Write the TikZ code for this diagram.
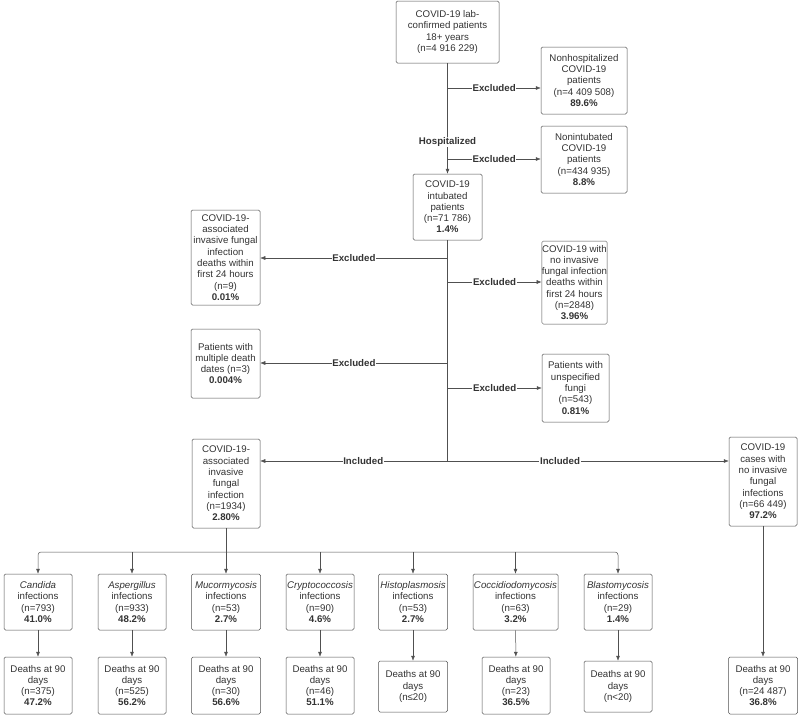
\documentclass[tikz,border=0pt]{standalone}
\usepackage{fontspec}
\setmainfont{Liberation Sans}
\usetikzlibrary{arrows.meta}

\definecolor{linegray}{HTML}{505050}
\definecolor{textgray}{HTML}{333333}

\tikzset{
  box/.style={draw=linegray, rounded corners=1.5pt, align=center, inner sep=0pt,
    text=textgray, font=\fontsize{9.7}{11.3}\selectfont},
  flow/.style={draw=linegray, -{Latex[length=5pt,width=4pt]}},
  tag/.style={font=\fontsize{9.7}{11.3}\selectfont\bfseries, text=textgray,
    fill=white, inner sep=0.8pt},
}

\begin{document}
\begin{tikzpicture}[x=1pt, y=-1pt, line width=0.5pt]
  \useasboundingbox (0,0) rectangle (800,718);

  % screening column
  \node[box, minimum width=103, minimum height=62] (lab) at (447.5,32)
    {COVID-19 lab-\\confirmed patients\\18+ years\\(n=4 916 229)};
  \node[box, minimum width=86, minimum height=67] (nonhosp) at (584,80.5)
    {Nonhospitalized\\COVID-19\\patients\\(n=4 409 508)\\\textbf{89.6\%}};
  \node[box, minimum width=86, minimum height=67] (nonint) at (584,159.5)
    {Nonintubated\\COVID-19\\patients\\(n=434 935)\\\textbf{8.8\%}};
  \node[box, minimum width=69, minimum height=66] (intub) at (447.5,207)
    {COVID-19\\intubated\\patients\\(n=71 786)\\\textbf{1.4\%}};

  % exclusions after intubation
  \node[box, minimum width=69, minimum height=95] (dead24) at (225.5,257.5)
    {COVID-19-\\associated\\invasive fungal\\infection\\deaths within\\first 24 hours\\(n=9)\\\textbf{0.01\%}};
  \node[box, minimum width=65, minimum height=83] (noifi24) at (574.5,282.5)
    {COVID-19 with\\no invasive\\fungal infection\\deaths within\\first 24 hours\\(n=2848)\\\textbf{3.96\%}};
  \node[box, minimum width=69, minimum height=69] (multdeath) at (225.5,363.5)
    {Patients with\\multiple death\\dates (n=3)\\\textbf{0.004\%}};
  \node[box, minimum width=67, minimum height=68] (unspec) at (575.5,388)
    {Patients with\\unspecified\\fungi\\(n=543)\\\textbf{0.81\%}};

  % included groups
  \node[box, minimum width=68, minimum height=89] (ifi) at (226,483.5)
    {COVID-19-\\associated\\invasive\\fungal\\infection\\(n=1934)\\\textbf{2.80\%}};
  \node[box, minimum width=68, minimum height=89] (noifi) at (763,481.5)
    {COVID-19\\cases with\\no invasive\\fungal\\infections\\(n=66 449)\\\textbf{97.2\%}};

  % infection types
  \node[box, minimum width=68, minimum height=56] (candida) at (38,602)
    {\textit{Candida}\\infections\\(n=793)\\\textbf{41.0\%}};
  \node[box, minimum width=68, minimum height=56] (asper) at (132,602)
    {\textit{Aspergillus}\\infections\\(n=933)\\\textbf{48.2\%}};
  \node[box, minimum width=69, minimum height=56] (mucor) at (226,602)
    {\textit{Mucormycosis}\\infections\\(n=53)\\\textbf{2.7\%}};
  \node[box, minimum width=68, minimum height=56] (crypto) at (320,602)
    {\textit{Cryptococcosis}\\infections\\(n=90)\\\textbf{4.6\%}};
  \node[box, minimum width=69, minimum height=56] (histo) at (413,602)
    {\textit{Histoplasmosis}\\infections\\(n=53)\\\textbf{2.7\%}};
  \node[box, minimum width=85, minimum height=56] (cocci) at (515.5,602)
    {\textit{Coccidiodomycosis}\\infections\\(n=63)\\\textbf{3.2\%}};
  \node[box, minimum width=68, minimum height=56] (blasto) at (618,602)
    {\textit{Blastomycosis}\\infections\\(n=29)\\\textbf{1.4\%}};

  % deaths at 90 days
  \node[box, minimum width=68, minimum height=57] (dcandida) at (38,685.5)
    {Deaths at 90\\days\\(n=375)\\\textbf{47.2\%}};
  \node[box, minimum width=68, minimum height=57] (dasper) at (132,685.5)
    {Deaths at 90\\days\\(n=525)\\\textbf{56.2\%}};
  \node[box, minimum width=69, minimum height=57] (dmucor) at (226,685.5)
    {Deaths at 90\\days\\(n=30)\\\textbf{56.6\%}};
  \node[box, minimum width=68, minimum height=57] (dcrypto) at (320,685.5)
    {Deaths at 90\\days\\(n=46)\\\textbf{51.1\%}};
  \node[box, minimum width=69, minimum height=51] (dhisto) at (413,686.5)
    {Deaths at 90\\days\\(n≤20)};
  \node[box, minimum width=68, minimum height=57] (dcocci) at (516,685.5)
    {Deaths at 90\\days\\(n=23)\\\textbf{36.5\%}};
  \node[box, minimum width=68, minimum height=51] (dblasto) at (618,686.5)
    {Deaths at 90\\days\\(n<20)};
  \node[box, minimum width=69, minimum height=57] (dnoifi) at (763,685.5)
    {Deaths at 90\\days\\(n=24 487)\\\textbf{36.8\%}};

  % branch points on the main line
  \coordinate (e1) at (447.5,88);
  \coordinate (e2) at (447.5,159);
  \coordinate (e3) at (447.5,258);
  \coordinate (e4) at (447.5,282);
  \coordinate (e5) at (447.5,363);
  \coordinate (e6) at (447.5,388);
  \coordinate (inc) at (447.5,461);
  \coordinate (bus) at (226,552);

  % main line
  \draw[flow] (lab) -- (intub);
  \node[tag] (hosp) at (447.5,142) {Hospitalized};
  \draw[linegray] (intub) -- (inc);

  % exclusions
  \draw[flow] (e1) -- node[tag] {Excluded} (e1 -| nonhosp.west);
  \draw[flow] (e2) -- node[tag] {Excluded} (e2 -| nonint.west);
  \draw[flow] (e3) -- node[tag] {Excluded} (e3 -| dead24.east);
  \draw[flow] (e4) -- node[tag] {Excluded} (e4 -| noifi24.west);
  \draw[flow] (e5) -- node[tag] {Excluded} (e5 -| multdeath.east);
  \draw[flow] (e6) -- node[tag] {Excluded} (e6 -| unspec.west);

  % inclusions
  \draw[flow] (inc) -- node[tag, pos=0.45] {Included} (inc -| ifi.east);
  \draw[flow] (inc) -- node[tag, pos=0.4] {Included} (inc -| noifi.west);

  % split by fungus
  \draw[linegray] (ifi) -- (bus);
  \draw[flow, rounded corners=3pt] (bus) -| (candida);
  \draw[flow, rounded corners=3pt] (bus) -| (blasto);
  \foreach \c in {asper,mucor,crypto,histo,cocci}
    \draw[flow] (bus -| \c) -- (\c);
  \foreach \c in {candida,asper,mucor,crypto,histo,cocci,blasto,noifi}
    \draw[flow] (\c) -- (d\c);
\end{tikzpicture}
\end{document}
